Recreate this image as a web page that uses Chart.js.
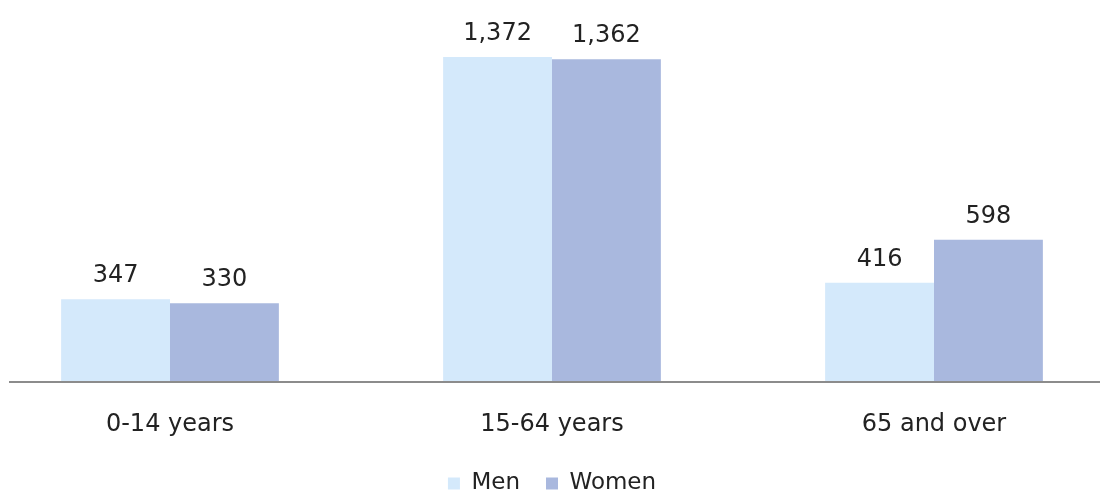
<!DOCTYPE html>
<html>
<head>
<meta charset="utf-8">
<script src="https://cdn.jsdelivr.net/npm/chart.js@4.4.7/dist/chart.umd.min.js"></script>
<style>
  html, body { margin: 0; padding: 0; background: #ffffff; overflow: hidden; }
  #wrap { position: relative; width: 1100px; height: 498px; overflow: hidden; }
  #popChart { position: absolute; left: -21px; top: 0; }
</style>
</head>
<body>
<div id="wrap">
  <canvas id="popChart" width="1146" height="505"></canvas>
</div>
<script>
const ageGroups = ["0-14 years", "15-64 years", "65 and over"];
const menValues = [347, 1372, 416];
const womenValues = [330, 1362, 598];

const textColor = "#222222";
const fontFamily = "'DejaVu Sans', sans-serif";

function formatNumber(value) {
  return new Intl.NumberFormat("en-US").format(value);
}

// values printed above each bar
const valueLabels = {
  id: "valueLabels",
  afterDatasetsDraw(chart) {
    const ctx = chart.ctx;
    ctx.save();
    ctx.fillStyle = textColor;
    ctx.font = "24px " + fontFamily;
    ctx.textAlign = "center";
    ctx.textBaseline = "alphabetic";
    chart.data.datasets.forEach((dataset, datasetIndex) => {
      chart.getDatasetMeta(datasetIndex).data.forEach((bar, index) => {
        ctx.fillText(formatNumber(dataset.data[index]), bar.x, bar.y - 17);
      });
    });
    ctx.restore();
  },
};

// grey baseline under the bars, starting a little in from the left edge
const baseline = {
  id: "baseline",
  afterDatasetsDraw(chart) {
    const ctx = chart.ctx;
    const y = Math.round(chart.scales.y.getPixelForValue(0)) + 1;
    ctx.save();
    ctx.strokeStyle = "#8c8c8c";
    ctx.lineWidth = 2;
    ctx.beginPath();
    ctx.moveTo(chart.chartArea.left + 30, y);
    ctx.lineTo(chart.chartArea.right, y);
    ctx.stroke();
    ctx.restore();
  },
};

new Chart(document.getElementById("popChart"), {
  type: "bar",
  data: {
    labels: ageGroups,
    datasets: [
      {
        label: "Men",
        data: menValues,
        backgroundColor: "#d4e9fb",
        borderWidth: 0,
        barPercentage: 1,
        categoryPercentage: 0.57,
      },
      {
        label: "Women",
        data: womenValues,
        backgroundColor: "#a9b8de",
        borderWidth: 0,
        barPercentage: 1,
        categoryPercentage: 0.57,
      },
    ],
  },
  options: {
    responsive: false,
    animation: false,
    layout: {
      padding: { top: 3, left: 0, right: 0, bottom: 0 },
    },
    plugins: {
      legend: {
        display: true,
        position: "bottom",
        labels: {
          boxWidth: 12,
          boxHeight: 12,
          padding: 26,
          color: textColor,
          font: { family: fontFamily, size: 23 },
        },
      },
      tooltip: { enabled: false },
    },
    scales: {
      x: {
        // tick marks stay hidden, their length only spaces the labels
        grid: { display: false, drawTicks: true, tickLength: 22 },
        border: { display: false },
        ticks: {
          color: textColor,
          padding: 7,
          font: { family: fontFamily, size: 24 },
        },
      },
      y: {
        display: false,
        min: 0,
        max: 1600,
      },
    },
  },
  plugins: [valueLabels, baseline],
});
</script>
</body>
</html>
